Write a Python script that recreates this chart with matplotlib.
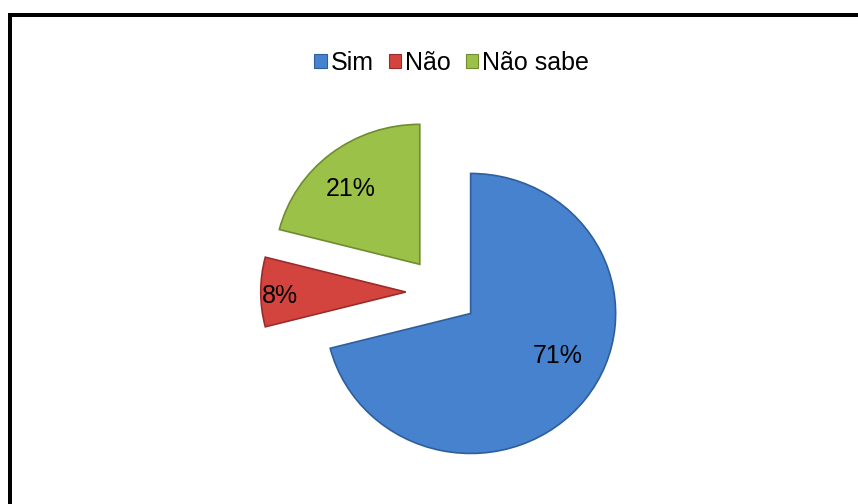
import numpy as np
import matplotlib
matplotlib.use("Agg")
import matplotlib.pyplot as plt
from matplotlib.patches import Patch
from matplotlib.lines import Line2D

# ---- data ----
categories = ["Sim", "Não", "Não sabe"]
values = [71, 8, 21]
colors = ["#4682CE", "#D4443F", "#9BC149"]
edge_colors = ["#2F5E9C", "#9A2C29", "#6F8C30"]
explode = [0.25, 0.25, 0.25]
label_dist = [0.67, 0.87, 0.72]      # fraction of radius from wedge tip
label_angle_adj = [11, 2, 4]          # degrees

W, H, DPI = 858, 504, 100
fig = plt.figure(figsize=(W / DPI, H / DPI), dpi=DPI)
fig.patch.set_facecolor("white")

RX, RY = 145.0, 140.0     # pixel radii (slightly wide ellipse)
cx, cy = 442.0, 292.0     # pixel centre (image coords)
ax = fig.add_axes([0, 0, 1, 1])
wedges, texts, autotexts = ax.pie(
    values, colors=colors, explode=explode, startangle=90,
    counterclock=False, radius=1.0, autopct="%1.0f%%",
    wedgeprops=dict(linewidth=1.2),
    textprops=dict(fontsize=18, family="Liberation Sans", color="black"),
)
for w, ec in zip(wedges, edge_colors):
    w.set_edgecolor(ec)

for w, t, d, da in zip(wedges, autotexts, label_dist, label_angle_adj):
    th = np.deg2rad((w.theta1 + w.theta2) / 2 + da)
    x0, y0 = w.center
    t.set_position((x0 + d * np.cos(th), y0 + d * np.sin(th)))
    t.set_ha("center")
    t.set_va("center")

ax.set_aspect("auto")
ax.set_xlim(-cx / RX, (W - cx) / RX)
ax.set_ylim(-(H - cy) / RY, cy / RY)
ax.axis("off")

# legend
handles = [Patch(facecolor=c, edgecolor=e, linewidth=0.8) for c, e in zip(colors, edge_colors)]
fig.legend(handles, categories, loc="center", bbox_to_anchor=(451.5 / W, 1 - 63 / H),
           ncol=3, frameon=False, handlelength=0.5, handleheight=0.5,
           handletextpad=0.15, columnspacing=0.6,
           prop=dict(family="Liberation Sans", size=18))

# thick black frame (top and left visible)
lw = 4 * 72 / DPI
fig.add_artist(Line2D([10 / W, 10 / W], [0, 1 - 15 / H], color="black", lw=lw,
                      transform=fig.transFigure, solid_capstyle="projecting"))
fig.add_artist(Line2D([10 / W, 1], [1 - 15 / H, 1 - 15 / H], color="black", lw=lw,
                      transform=fig.transFigure, solid_capstyle="projecting"))

fig.savefig("out.png", dpi=DPI)
